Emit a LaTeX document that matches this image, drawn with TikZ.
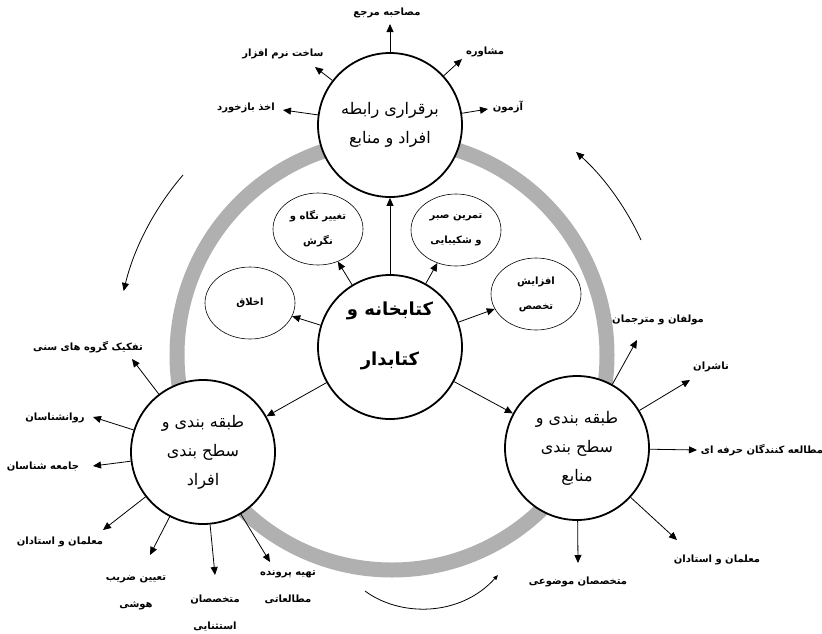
\documentclass[tikz,border=0pt]{standalone}
\usepackage{fontspec}
\usetikzlibrary{arrows.meta,shapes.geometric}
\newfontfamily\arabicfont[Script=Arabic]{DejaVu Sans}
\TeXXeTstate=1
\newcommand{\fa}[1]{{\arabicfont\beginR #1\endR}}
\definecolor{ringgray}{RGB}{176,176,176}
\begin{document}
\begin{tikzpicture}[x=1pt,y=-1pt,
  bigc/.style={circle, draw, line width=1.8pt, fill=white, minimum size=144pt, inner sep=0pt, align=center,
    font=\fontsize{16}{29}\selectfont},
  ell/.style={ellipse, draw, line width=0.6pt, fill=white, minimum width=90pt, minimum height=72pt, inner sep=0pt,
    align=center, font=\fontsize{10}{25}\selectfont\bfseries},
  lbl/.style={font=\fontsize{10}{27}\selectfont\bfseries, align=center, inner sep=0pt},
  ctext/.style={font=\fontsize{18}{50}\selectfont\bfseries, align=center, inner sep=0pt},
  arr/.style={-{Triangle[length=8pt,width=7pt]}, line width=0.8pt},
  curv/.style={line width=0.8pt},
]
\useasboundingbox (0,0) rectangle (822,633);
% ring
\draw[ringgray, line width=15pt] (392,355) circle (215pt);
% curved arrows
\coordinate (a1) at (183,175);
\draw[curv, -{Triangle[length=8pt,width=7pt]}] (a1) arc[start angle=139.3, end angle=166.5, radius=277pt];
\coordinate (a2) at (641,240);
\draw[curv, -{Triangle[length=8pt,width=7pt]}] (a2) arc[start angle=24.8, end angle=48, radius=272pt];
\coordinate (a3s) at (365,591);
\coordinate (a3e) at (498,575);
\draw[curv, -{Triangle[length=5pt,width=4pt]}] (a3s) .. controls (400,617) and (460,617) .. (a3e);

% main circles
\node[bigc] (T) at (390,125) {\fa{برقراری رابطه}\\\fa{افراد و منابع}};
\node[bigc] (C) at (390,347) {};
\node[ctext] (Ct) at (390,336) {\fa{کتابخانه و}\\\fa{کتابدار}};
\node[bigc] (L) at (203,452) {\fa{طبقه بندی و}\\\fa{سطح بندی}\\\fa{افراد}};
\node[bigc] (R) at (577,448) {\fa{طبقه بندی و}\\\fa{سطح بندی}\\\fa{منابع}};

% ellipses
\node[ell] (E1) at (250,303) {\fa{اخلاق}};
\node[ell] (E2) at (318,229) {\fa{تغییر نگاه و}\\\fa{نگرش}};
\node[ell] (E3) at (456,230) {\fa{تمرین صبر}\\\fa{و شکیبایی}};
\node[ell] (E4) at (536,294) {\fa{افزایش}\\\fa{تخصص}};

% arrows from center
\draw[arr] (C) -- (T);
\draw[arr] (C) -- (E1);
\draw[arr] (C) -- (E2);
\draw[arr] (C) -- (E3);
\draw[arr] (C) -- (E4);
\draw[arr] (C) -- (L);
\draw[arr] (C) -- (R);

% top circle satellites
\coordinate (t1) at (390,24);
\coordinate (t2) at (462,59);
\coordinate (t3) at (488,109);
\coordinate (t4) at (315,67);
\coordinate (t5) at (283,110);
\draw[arr] (T) -- (t1);
\draw[arr] (T) -- (t2);
\draw[arr] (T) -- (t3);
\draw[arr] (T) -- (t4);
\draw[arr] (T) -- (t5);
\node[lbl] (lt1) at (387,13) {\fa{مصاحبه مرجع}};
\node[lbl] (lt2) at (485,52) {\fa{مشاوره}};
\node[lbl] (lt3) at (508,107) {\fa{آزمون}};
\node[lbl] (lt4) at (283,54) {\fa{ساخت نرم افزار}};
\node[lbl] (lt5) at (246,108) {\fa{اخذ بازخورد}};

% left circle satellites
\coordinate (l1) at (132,359);
\coordinate (l2) at (93,417);
\coordinate (l3) at (93,466);
\coordinate (l4) at (103,530);
\coordinate (l5) at (150,555);
\coordinate (l6) at (215,575);
\coordinate (l7) at (270,562);
\draw[arr] (L) -- (l1);
\draw[arr] (L) -- (l2);
\draw[arr] (L) -- (l3);
\draw[arr] (L) -- (l4);
\draw[arr] (L) -- (l5);
\draw[arr] (L) -- (l6);
\draw[arr] (L) -- (l7);
\node[lbl] (ll1) at (88,347) {\fa{تفکیک گروه های سنی}};
\node[lbl] (ll2) at (55,418) {\fa{روانشناسان}};
\node[lbl] (ll3) at (43,467) {\fa{جامعه شناسان}};
\node[lbl] (ll4) at (60,542) {\fa{معلمان و استادان}};
\node[lbl] (ll5) at (136,593) {\fa{تعیین ضریب}\\\fa{هوشی}};
\node[lbl] (ll6) at (215,613) {\fa{متخصصان}\\\fa{استثنایی}};
\node[lbl] (ll7) at (288,587) {\fa{تهیه پرونده}\\\fa{مطالعاتی}};

% right circle satellites
\coordinate (r1) at (637,340);
\coordinate (r2) at (690,380);
\coordinate (r3) at (697,450);
\coordinate (r4) at (677,540);
\coordinate (r5) at (578,563);
\draw[arr] (R) -- (r1);
\draw[arr] (R) -- (r2);
\draw[arr] (R) -- (r3);
\draw[arr] (R) -- (r4);
\draw[arr] (R) -- (r5);
\node[lbl] (lr1) at (658,320) {\fa{مولفان و مترجمان}};
\node[lbl] (lr2) at (711,367) {\fa{ناشران}};
\node[lbl] (lr3) at (762,450) {\fa{مطالعه کنندگان حرفه ای}};
\node[lbl] (lr4) at (717,560) {\fa{معلمان و استادان}};
\node[lbl] (lr5) at (578,582) {\fa{متخصصان موضوعی}};
\end{tikzpicture}
\end{document}
